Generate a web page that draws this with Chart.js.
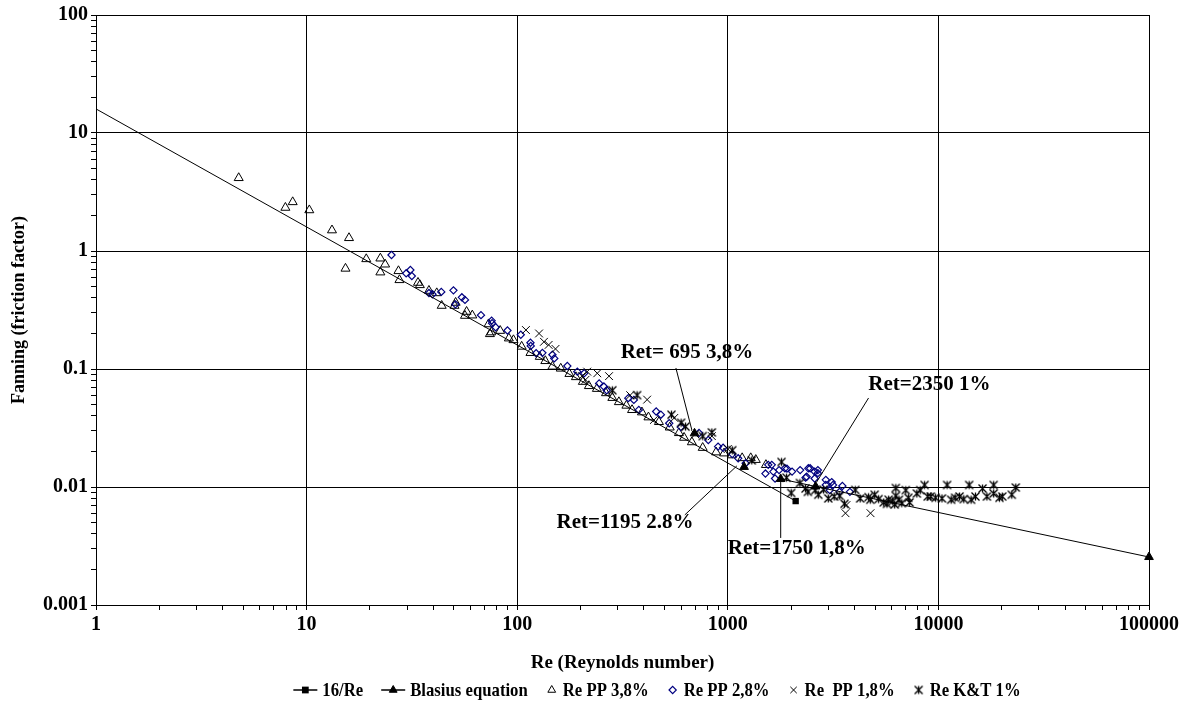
<!DOCTYPE html>
<html><head><meta charset="utf-8">
<script src="https://cdn.jsdelivr.net/npm/chart.js@4/dist/chart.umd.min.js"></script>
<style>html,body{margin:0;padding:0;background:#fff}</style>
</head><body>
<canvas id="c" width="1190" height="708"></canvas>
<script>
// ---------------- data ----------------
const xTickLabels = ['1', '10', '100', '1000', '10000', '100000'];
const yTickLabels = ['0.001', '0.01', '0.1', '1', '10', '100'];
const seriesNames = ['16/Re', 'Blasius equation', 'Re PP 3,8%', 'Re PP 2,8%', 'Re  PP 1,8%', 'Re K&T 1%'];
const xTitle = 'Re (Reynolds number)';
const yTitle = 'Fanning (friction factor)';

const re16 = [1, 2100];
const f16 = [16, 0.0076];

const reBlasius = [695, 900, 1195, 1500, 1783, 2612, 100000];
const fBlasius = [0.0285, null, 0.0148, null, 0.0117, 0.0101, 0.00255];

const rePP38 = [4.76, 7.93, 8.59, 10.3, 13.2, 15.9, 15.3, 19.2, 22.4, 23.6, 22.4, 27.3, 27.6, 33.8, 34.5, 38.1, 41.5, 43.8, 50.4, 51, 57.5, 56.5, 61.2, 73.1, 74.2, 75.3, 83, 91.3, 96, 105, 115.6, 128, 136, 147, 161, 177, 190, 205, 219, 239, 264, 283, 304, 330, 351, 391, 420, 471, 530, 586, 620, 675, 760, 880, 960, 1045, 1170, 1285, 1358, 1517];
const fPP38 = [4.16, 2.33, 2.6, 2.22, 1.5, 1.29, 0.71, 0.855, 0.866, 0.77, 0.66, 0.677, 0.568, 0.539, 0.515, 0.461, 0.44, 0.344, 0.344, 0.365, 0.306, 0.283, 0.285, 0.24, 0.198, 0.205, 0.211, 0.182, 0.176, 0.155, 0.137, 0.127, 0.117, 0.105, 0.101, 0.091, 0.0855, 0.078, 0.0718, 0.068, 0.0625, 0.057, 0.0525, 0.049, 0.045, 0.043, 0.039, 0.0356, 0.032, 0.0287, 0.0262, 0.024, 0.0215, 0.0197, 0.0193, 0.0186, 0.0176, 0.0176, 0.017, 0.0154];

const rePP28 = [25.3, 31.1, 29.7, 31.6, 38.1, 39.6, 43.6, 49.8, 50.9, 54.6, 56.5, 67.3, 75.6, 76, 79, 89.9, 104, 115.6, 116, 123, 131.7, 147, 150, 173, 193, 208, 245, 258, 266, 337, 358, 378, 457, 481, 527, 598, 730, 808, 899, 950, 1050, 1120, 1216, 1509, 1556, 1617, 1645, 1676, 1752, 1867, 1909, 2019, 2205, 2340, 2368, 2412, 2460, 2585, 2585, 2677, 2677, 2920, 2920, 3050, 3115, 3160, 3390, 3500, 3800];
const fPP28 = [0.925, 0.69, 0.647, 0.614, 0.44, 0.43, 0.45, 0.464, 0.353, 0.405, 0.385, 0.286, 0.257, 0.244, 0.226, 0.212, 0.195, 0.167, 0.157, 0.136, 0.137, 0.132, 0.123, 0.106, 0.095, 0.092, 0.0755, 0.071, 0.066, 0.0566, 0.0547, 0.045, 0.0436, 0.041, 0.0347, 0.0322, 0.0287, 0.025, 0.022, 0.0215, 0.019, 0.0175, 0.0159, 0.013, 0.0154, 0.0154, 0.0135, 0.0118, 0.0139, 0.0144, 0.0143, 0.0135, 0.0139, 0.012, 0.0122, 0.0144, 0.0144, 0.0135, 0.0118, 0.0139, 0.0131, 0.0115, 0.0104, 0.0094, 0.011, 0.0104, 0.0091, 0.0102, 0.0091];

const rePP18 = [110, 127, 134, 141, 152, 203, 211, 215, 240, 273, 344, 414, 446, 557, 700, 840, 1000, 3660, 3620, 4760];
const fPP18 = [0.214, 0.2, 0.17, 0.16, 0.148, 0.087, 0.081, 0.095, 0.092, 0.087, 0.06, 0.055, 0.037, 0.0385, 0.028, 0.027, 0.021, 0.00703, 0.006, 0.006];

const reKT = [283, 371, 540, 600, 630, 760, 840, 1050, 1300, 1800, 1900, 2000, 2200, 2340, 2400, 2600, 2690, 2850, 3000, 3200, 3400, 3580, 4030, 4250, 4660, 4750, 4980, 5200, 5500, 5700, 5800, 6070, 6200, 6280, 6280, 6500, 6700, 7000, 7200, 7300, 7900, 8200, 8600, 8900, 9200, 9700, 10400, 11000, 11500, 12000, 12600, 13200, 14000, 14300, 15000, 16200, 17000, 18300, 18300, 19500, 20100, 22300, 23300];
const fKT = [0.066, 0.06, 0.041, 0.035, 0.0325, 0.027, 0.029, 0.0205, 0.0168, 0.0163, 0.012, 0.0089, 0.0108, 0.0097, 0.0091, 0.0094, 0.0086, 0.0095, 0.008, 0.0083, 0.0084, 0.0072, 0.00944, 0.008, 0.0082, 0.0078, 0.0086, 0.0079, 0.0074, 0.0072, 0.0078, 0.0076, 0.0071, 0.0084, 0.0098, 0.0078, 0.0073, 0.0094, 0.0081, 0.0074, 0.0088, 0.0094, 0.0104, 0.0083, 0.0083, 0.0081, 0.008, 0.0104, 0.0078, 0.0081, 0.0083, 0.0079, 0.0104, 0.0078, 0.0083, 0.0097, 0.0083, 0.0104, 0.0088, 0.0081, 0.0083, 0.0086, 0.0099];

// annotation labels (anchored in data space: Re, f)
const noteTexts = ['Ret= 695 3,8%', 'Ret=2350 1%', 'Ret=1195 2.8%', 'Ret=1750 1,8%'];
const noteTextRe = [640, 9060, 325, 2124];
const noteTextF = [0.137, 0.0731, 0.00495, 0.00298];
const noteLineRe = [[567, 675], [4660, 2640], [625, 1104], [1783, 1783]];
const noteLineF = [[0.102, 0.0304], [0.0568, 0.011], [0.0058, 0.0151], [0.0117, 0.0037]];

// ---------------- styles ----------------
const FONT = '"Liberation Serif", "Times New Roman", serif';
function pts(xs, ys) { return xs.map((x, i) => ({ x: x, y: ys[i] })); }
function makeAsterisk() {
  const c = document.createElement('canvas');
  c.width = 13; c.height = 13;
  const g = c.getContext('2d');
  g.strokeStyle = '#000'; g.lineWidth = 1.3;
  g.beginPath();
  g.moveTo(2.5, 2.5); g.lineTo(10.5, 10.5);
  g.moveTo(10.5, 2.5); g.lineTo(2.5, 10.5);
  g.moveTo(6.5, 2.5); g.lineTo(6.5, 10.5);
  g.stroke();
  return c;
}
const asterisk = makeAsterisk();
const isPow10 = v => Math.abs(Math.log10(v) - Math.round(Math.log10(v))) < 1e-9;
function logTicks(lo, hi) {
  const t = [];
  for (let e = lo; e < hi; e++) for (let m = 1; m <= 9; m++) t.push({ value: m * Math.pow(10, e) });
  t.push({ value: Math.pow(10, hi) });
  return t;
}

const datasets = [
  { label: seriesNames[0], data: pts(re16, f16), showLine: true, borderColor: '#000', borderWidth: 1,
    pointStyle: 'rect', pointRadius: [0, 4.5], backgroundColor: '#000', pointBorderWidth: 0, clip: false, order: 2 },
  { label: seriesNames[1], data: pts(reBlasius, fBlasius), showLine: true, spanGaps: false, borderColor: '#000', borderWidth: 1,
    pointStyle: 'triangle', pointRadius: 5, backgroundColor: '#000', pointBorderWidth: 1, clip: false, order: 1 },
  { label: seriesNames[2], data: pts(rePP38, fPP38), showLine: false, pointStyle: 'triangle', pointRadius: 5.2,
    borderColor: '#000', backgroundColor: 'rgba(0,0,0,0)', pointBorderWidth: 1, order: 6 },
  { label: seriesNames[3], data: pts(rePP28, fPP28), showLine: false, pointStyle: 'rectRot', pointRadius: 3.6,
    borderColor: '#000080', backgroundColor: 'rgba(0,0,0,0)', pointBorderWidth: 1.2, order: 5 },
  { label: seriesNames[4], data: pts(rePP18, fPP18), showLine: false, pointStyle: 'crossRot', pointRadius: 5.5,
    borderColor: '#000', backgroundColor: '#000', pointBorderWidth: 1, order: 4 },
  { label: seriesNames[5], data: pts(reKT, fKT), showLine: false, pointStyle: asterisk, pointRadius: 6,
    borderColor: '#000', backgroundColor: '#000', order: 3 }
];

// custom legend (line + marker symbols like the original)
function drawMarker(ctx, style, x, y, r, stroke, fill, lw) {
  ctx.save();
  ctx.strokeStyle = stroke; ctx.fillStyle = fill; ctx.lineWidth = lw;
  ctx.beginPath();
  if (style === 'rect') { ctx.rect(x - r * 0.75, y - r * 0.75, r * 1.5, r * 1.5); ctx.fill(); }
  else if (style === 'triangle') {
    const s = r * 1.732 / 2;
    ctx.moveTo(x, y - r); ctx.lineTo(x + s, y + r / 2); ctx.lineTo(x - s, y + r / 2); ctx.closePath();
    if (fill !== 'rgba(0,0,0,0)') ctx.fill(); ctx.stroke();
  } else if (style === 'rectRot') {
    ctx.moveTo(x - r, y); ctx.lineTo(x, y - r); ctx.lineTo(x + r, y); ctx.lineTo(x, y + r); ctx.closePath(); ctx.stroke();
  } else if (style === 'crossRot') {
    const d = r * 0.707;
    ctx.moveTo(x - d, y - d); ctx.lineTo(x + d, y + d); ctx.moveTo(x + d, y - d); ctx.lineTo(x - d, y + d); ctx.stroke();
  } else if (style instanceof HTMLCanvasElement) {
    ctx.drawImage(style, x - style.width / 2, y - style.height / 2);
  }
  ctx.restore();
}
const legendPlugin = {
  id: 'customLegend',
  afterDraw(chart) {
    const ctx = chart.ctx;
    ctx.save();
    ctx.font = 'bold 19px ' + FONT;
    ctx.textBaseline = 'middle';
    ctx.fillStyle = '#000';
    const y = 690, gap = 5, itemGap = 18, sx = 0.88;
    const items = chart.data.datasets.map(ds => {
      const symW = ds.showLine ? 24 : 12;
      return { ds, symW, textW: ctx.measureText(ds.label).width * sx };
    });
    const total = items.reduce((s, it) => s + it.symW + gap + it.textW, 0) + itemGap * (items.length - 1);
    let x = 657 - total / 2;
    items.forEach(it => {
      const ds = it.ds;
      const cx = x + it.symW / 2;
      if (ds.showLine) {
        ctx.strokeStyle = '#000'; ctx.lineWidth = 1.5;
        ctx.beginPath(); ctx.moveTo(x, y); ctx.lineTo(x + it.symW, y); ctx.stroke();
      }
      const r = Array.isArray(ds.pointRadius) ? ds.pointRadius[ds.pointRadius.length - 1] : ds.pointRadius;
      drawMarker(ctx, ds.pointStyle, cx, y, Math.min(r, 4.5), ds.borderColor, ds.backgroundColor, ds.pointBorderWidth || 1);
      ctx.save();
      ctx.translate(x + it.symW + gap, y + 1);
      ctx.scale(sx, 1);
      ctx.fillStyle = '#000';
      ctx.fillText(ds.label, 0, 0);
      ctx.restore();
      x += it.symW + gap + it.textW + itemGap;
    });
    ctx.restore();
  }
};
const notesPlugin = {
  id: 'notes',
  afterDatasetsDraw(chart) {
    const ctx = chart.ctx, xs = chart.scales.x, ys = chart.scales.y;
    ctx.save();
    ctx.strokeStyle = '#000'; ctx.lineWidth = 1;
    noteTexts.forEach((t, i) => {
      ctx.beginPath();
      ctx.moveTo(xs.getPixelForValue(noteLineRe[i][0]), ys.getPixelForValue(noteLineF[i][0]));
      ctx.lineTo(xs.getPixelForValue(noteLineRe[i][1]), ys.getPixelForValue(noteLineF[i][1]));
      ctx.stroke();
    });
    ctx.font = 'bold 21px ' + FONT;
    ctx.fillStyle = '#000'; ctx.textAlign = 'center'; ctx.textBaseline = 'middle';
    noteTexts.forEach((t, i) => {
      ctx.fillText(t, xs.getPixelForValue(noteTextRe[i]), ys.getPixelForValue(noteTextF[i]));
    });
    ctx.restore();
  }
};

Chart.defaults.font.family = FONT;
Chart.defaults.font.weight = 'bold';
Chart.defaults.color = '#000';

new Chart(document.getElementById('c'), {
  type: 'scatter',
  data: { datasets },
  options: {
    responsive: false, animation: false, devicePixelRatio: 1,
    layout: { padding: { top: 15, right: 41, bottom: 28, left: 0 } },
    plugins: { legend: { display: false }, tooltip: { enabled: false } },
    scales: {
      x: {
        type: 'logarithmic', position: 'bottom', min: 1, max: 100000,
        afterBuildTicks: s => { s.ticks = logTicks(0, 5); },
        afterFit: s => { s.height = 75; },
        ticks: { autoSkip: false, maxRotation: 0, padding: 3, font: { size: 20, weight: 'bold' },
          callback: v => isPow10(v) ? xTickLabels[Math.round(Math.log10(v))] : '' },
        grid: { color: c => (c.tick && isPow10(c.tick.value)) ? '#000' : 'rgba(0,0,0,0)', tickColor: '#000', tickLength: 5, lineWidth: 1 },
        border: { display: true, color: '#000', width: 1 },
        title: { display: true, text: xTitle, font: { size: 19, weight: 'bold' }, padding: { top: 0, bottom: 6 } }
      },
      y: {
        type: 'logarithmic', position: 'left', min: 0.001, max: 100,
        afterBuildTicks: s => { s.ticks = logTicks(-3, 2); },
        afterFit: s => { s.width = 96; },
        ticks: { autoSkip: false, padding: 3, font: { size: 20, weight: 'bold' },
          callback: v => isPow10(v) ? yTickLabels[Math.round(Math.log10(v)) + 3] : '' },
        grid: { color: c => (c.tick && isPow10(c.tick.value)) ? '#000' : 'rgba(0,0,0,0)', tickColor: '#000', tickLength: 5, lineWidth: 1 },
        border: { display: true, color: '#000', width: 1 },
        title: { display: true, text: yTitle, font: { size: 18, weight: 'bold' }, padding: { top: 9, bottom: 0 } }
      }
    }
  },
  plugins: [notesPlugin, legendPlugin]
});
</script>
</body></html>
